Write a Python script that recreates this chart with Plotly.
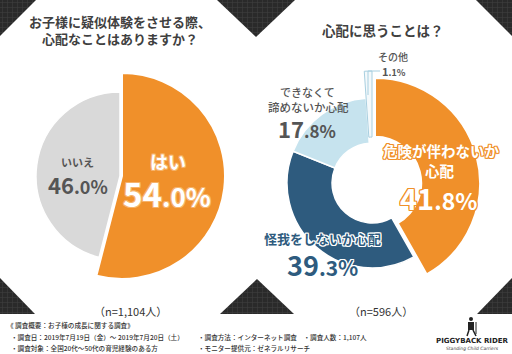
import plotly.graph_objects as go

W, H = 512, 354

# ---------------- data ----------------
left_labels = ["はい", "いいえ"]
left_values = [54.0, 46.0]
left_colors = ["#F0902A", "#D9D9D9"]

right_labels = ["危険が伴わないか心配", "怪我をしないか心配", "できなくて諦めないか心配", "その他"]
right_values = [41.8, 39.3, 17.8, 1.1]
right_colors = ["#F0902A", "#2E5B7E", "#C6E3EE", "#F4F9FB"]

left_n = "（n=1,104人）"
right_n = "（n=596人）"

TRANSP = "rgba(0,0,0,0)"


def dom(cx, cy, r):
    return dict(x=[(cx - r) / W, (cx + r) / W], y=[(H - cy - r) / H, (H - cy + r) / H])


fig = go.Figure()

# decorative checkered triangles
tris = [
    [(0, 0), (36, 0), (0, 36)],
    [(217, 0), (295, 0), (256, 37)],
    [(476, 0), (512, 0), (512, 36)],
    [(0, 278), (0, 314), (35, 314)],
    [(220, 314), (294, 314), (257, 279)],
    [(512, 278), (512, 314), (477, 314)],
]
for t in tris:
    xs = [p[0] for p in t] + [t[0][0]]
    ys = [p[1] for p in t] + [t[0][1]]
    fig.add_trace(go.Scatter(x=xs, y=ys, mode="lines", fill="toself",
                             line=dict(width=0, color="#2d2d2d"),
                             fillcolor="#2d2d2d",
                             fillpattern=dict(shape="+", bgcolor="#2a2a2a", fgcolor="#555555",
                                              size=5, solidity=0.2),
                             hoverinfo="skip", showlegend=False))

# ---------------- left pie ----------------
fig.add_trace(go.Pie(labels=left_labels, values=left_values, sort=False, direction="clockwise",
                     rotation=0, textinfo="none", hoverinfo="skip", showlegend=False,
                     marker=dict(colors=[TRANSP, left_colors[1]],
                                 line=dict(color=[TRANSP, "white"], width=1.5)),
                     domain=dom(120, 176, 84)))
fig.add_trace(go.Pie(labels=left_labels, values=left_values, sort=False, direction="clockwise",
                     rotation=0, textinfo="none", hoverinfo="skip", showlegend=False,
                     marker=dict(colors=[left_colors[0], TRANSP],
                                 line=dict(color=["white", TRANSP], width=2)),
                     domain=dom(122, 176, 103)))

# ---------------- right donut ----------------
fig.add_trace(go.Pie(labels=right_labels, values=right_values, sort=False, direction="clockwise",
                     rotation=0, textinfo="none", hoverinfo="skip", showlegend=False, hole=0.47,
                     marker=dict(colors=[TRANSP, right_colors[1], right_colors[2], TRANSP],
                                 line=dict(color=[TRANSP, "white", "white", TRANSP], width=1.5)),
                     domain=dom(372, 183, 85)))
fig.add_trace(go.Pie(labels=right_labels, values=right_values, sort=False, direction="clockwise",
                     rotation=0, textinfo="none", hoverinfo="skip", showlegend=False, hole=0.41,
                     marker=dict(colors=[TRANSP, TRANSP, TRANSP, right_colors[3]],
                                 line=dict(color=[TRANSP, TRANSP, TRANSP, "#A8CFE0"], width=1)),
                     domain=dom(372, 183, 112)))
fig.add_trace(go.Pie(labels=right_labels, values=right_values, sort=False, direction="clockwise",
                     rotation=0, textinfo="none", hoverinfo="skip", showlegend=False, hole=0.44,
                     marker=dict(colors=[right_colors[0], TRANSP, TRANSP, TRANSP],
                                 line=dict(color=["white", TRANSP, TRANSP, TRANSP], width=2)),
                     domain=dom(375, 183, 105)))

FONT = "Noto Sans CJK JP"
anns = []


def txt(x, y, s, size, color, weight="bold", shadow=None, xanchor="center"):
    f = dict(family=FONT, size=size, color=color, weight=weight)
    if shadow:
        f["shadow"] = shadow
    anns.append(dict(x=x, y=y, xref="x", yref="y", text=s, showarrow=False, font=f,
                     xanchor=xanchor, yanchor="middle"))


def outline(c, w=1):
    return ", ".join(f"{dx}px {dy}px 0 {c}" for dx in (-w, 0, w) for dy in (-w, 0, w) if dx or dy)


def pct(v, big, small):
    s = f"{v:.1f}"
    a, b = s.split(".")
    return f"{a}<span style='font-size:{small}px'>.{b}%</span>"


# titles
txt(120, 29.5, "お子様に疑似体験をさせる際、<br>心配なことはありますか？", 13, "#404040")
txt(383, 30, "心配に思うことは？", 13.5, "#404040")

# left labels
txt(168, 161, left_labels[0], 18, "white", shadow=outline("#F6B36B"))
txt(167, 193, pct(left_values[0], 33, 26), 33, "white", shadow=outline("#F6B36B"))
txt(77, 162, left_labels[1], 11, "#555555")
txt(78, 184, pct(left_values[1], 22, 18), 22, "#555555")

# right labels
txt(441, 150, "危険が伴わないか", 14.5, "white", shadow=outline("#F0902A"))
txt(440, 170, "心配", 14.5, "white", shadow=outline("#F0902A"))
txt(438, 197, pct(right_values[0], 29, 23), 29, "white", shadow=outline("#F0902A"))

txt(322, 238, right_labels[1], 13, "#2E5B7E", shadow=outline("white"))
txt(322, 264, pct(right_values[1], 27, 21), 27, "#2E5B7E", shadow=outline("white"))

txt(307, 92, "できなくて", 11, "#555555", weight=500)
txt(308, 107, "諦めないか心配", 11.5, "#555555", weight=500)
txt(307, 128, pct(right_values[2], 22, 17), 22, "#555555")

txt(393, 56, right_labels[3], 10, "#555555", weight=500)
txt(394, 71, pct(right_values[3], 11, 9), 11, "#555555")

# n
txt(130, 311, left_n, 11, "#333333", weight="normal")
txt(381, 311, right_n, 11, "#333333", weight="normal")

# footnotes
fs = 6.6
txt(5, 325, "《 調査概要：お子様の成長に関する調査》", fs, "#333333", xanchor="left", weight=500)
txt(9, 337, "・調査日：2019年7月19日（金）～ 2019年7月20日（土）", fs, "#333333", xanchor="left", weight=500)
txt(9, 348, "・調査対象：全国20代～50代の育児経験のある方", fs, "#333333", xanchor="left", weight=500)
txt(196, 337, "・調査方法：インターネット調査　・調査人数：1,107人", fs, "#333333", xanchor="left", weight=500)
txt(196, 348, "・モニター提供元：ゼネラルリサーチ", fs, "#333333", xanchor="left", weight=500)

# logo
anns.append(dict(x=472, y=341, xref="x", yref="y", text="<b>PIGGYBACK RIDER</b>", showarrow=False,
                 font=dict(family="DejaVu Sans", size=7, color="#222222")))
anns.append(dict(x=472, y=348, xref="x", yref="y", text="<i>Standing Child Carriers</i>", showarrow=False,
                 font=dict(family="DejaVu Sans", size=4.5, color="#444444")))

LB = "#A8CFE0"
shapes = [
    dict(type="line", xref="x", yref="y", x0=368, y0=71, x1=380, y1=71, line=dict(color=LB, width=1)),
    dict(type="line", xref="x", yref="y", x0=368, y0=71, x1=368, y1=95, line=dict(color=LB, width=1)),
    # tiny logo figure
    dict(type="circle", xref="x", yref="y", x0=469, y0=317, x1=473, y1=321,
         fillcolor="#222222", line=dict(width=0)),
    dict(type="rect", xref="x", yref="y", x0=468, y0=322, x1=474, y1=330,
         fillcolor="#222222", line=dict(width=0)),
    dict(type="line", xref="x", yref="y", x0=469, y0=330, x1=467, y1=336, line=dict(color="#222222", width=1.5)),
    dict(type="line", xref="x", yref="y", x0=473, y0=330, x1=476, y1=336, line=dict(color="#222222", width=1.5)),
    dict(type="line", xref="x", yref="y", x0=476, y0=322, x1=476, y1=334, line=dict(color="#222222", width=1)),
]

fig.update_layout(
    width=W, height=H, margin=dict(l=0, r=0, t=0, b=0),
    paper_bgcolor="white", plot_bgcolor="white",
    xaxis=dict(range=[0, W], visible=False, fixedrange=True, domain=[0, 1]),
    yaxis=dict(range=[H, 0], visible=False, fixedrange=True, domain=[0, 1]),
    annotations=anns, shapes=shapes, showlegend=False,
)

fig.write_html("out.html")
